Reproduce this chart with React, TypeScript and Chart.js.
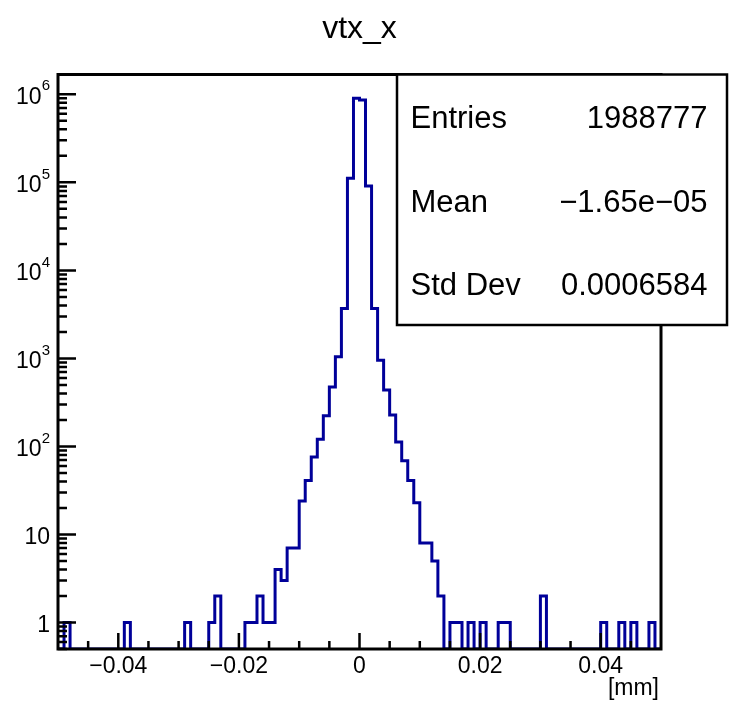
import React, { useEffect, useRef } from "react";
import { Chart, registerables } from "chart.js";

Chart.register(...registerables);

// ---- data ----
const X_MIN = -0.05;
const X_MAX = 0.05;
const Y_MIN = 0.5;
const Y_MAX = 1.68e6;

// 100 bins of width 0.001 from -0.05 to 0.05
const binCounts = [
  0, 1, 0, 0, 0, 0, 0, 0, 0, 0,
  0, 1, 0, 0, 0, 0, 0, 0, 0, 0,
  0, 1, 0, 0, 0, 1, 2, 0, 0, 0,
  0, 1, 1, 2, 1, 1, 4, 3, 7, 7,
  24, 41, 76, 121, 223, 475, 1043, 3700, 111000, 900000,
  865000, 91000, 3700, 956, 437, 227, 112, 69, 41, 23,
  8, 8, 5, 2, 0, 1, 1, 0, 1, 0,
  1, 0, 0, 1, 1, 0, 0, 0, 0, 0,
  2, 0, 0, 0, 0, 0, 0, 0, 0, 0,
  1, 0, 0, 1, 0, 1, 0, 0, 1, 0,
];

const xMajorTicks = [-0.04, -0.02, 0, 0.02, 0.04];
const xMajorLabels = ["\u22120.04", "\u22120.02", "0", "0.02", "0.04"];
const xMinorTicks = [
  -0.045, -0.035, -0.03, -0.025, -0.015, -0.01, -0.005,
  0.005, 0.01, 0.015, 0.025, 0.03, 0.035, 0.045,
];
const yMajorTicks = [1, 10, 100, 1000, 10000, 100000, 1000000];
const yBaseLabels = ["1", "10", "10", "10", "10", "10", "10"];
const yExpLabels = ["", "", "2", "3", "4", "5", "6"];
const yMinorDecades = [0.1, 1, 10, 100, 1000, 10000, 100000, 1000000];
const yMinorMultipliers = [2, 3, 4, 5, 6, 7, 8, 9];

const titleText = "vtx_x";
const xAxisTitle = "[mm]";
const statNames = ["Entries", "Mean", "Std Dev"];
const statValues = ["1988777", "\u22121.65e\u221205", "0.0006584"];

const FONT = "'Liberation Sans', Arial, Helvetica, sans-serif";
const HIST_COLOR = "#000099";

const rootDecor = {
  id: "rootDecor",
  afterDatasetsDraw(chart: any) {
    const ctx = chart.ctx as CanvasRenderingContext2D;
    const { left, right, top, bottom } = chart.chartArea;
    const xs = chart.scales.x;
    const ys = chart.scales.y;
    ctx.save();

    // frame
    ctx.strokeStyle = "#000";
    ctx.lineWidth = 3;
    ctx.strokeRect(left, top, right - left, bottom - top);

    // x ticks
    ctx.lineWidth = 2.5;
    ctx.beginPath();
    xMajorTicks.forEach((v) => {
      const px = xs.getPixelForValue(v);
      ctx.moveTo(px, bottom);
      ctx.lineTo(px, bottom - 16);
    });
    xMinorTicks.forEach((v) => {
      const px = xs.getPixelForValue(v);
      ctx.moveTo(px, bottom);
      ctx.lineTo(px, bottom - 8);
    });
    // y ticks
    yMajorTicks.forEach((v) => {
      const py = ys.getPixelForValue(v);
      ctx.moveTo(left, py);
      ctx.lineTo(left + 18, py);
    });
    yMinorDecades.forEach((d) => {
      yMinorMultipliers.forEach((m) => {
        const v = d * m;
        if (v < Y_MIN || v > Y_MAX) return;
        const py = ys.getPixelForValue(v);
        ctx.moveTo(left, py);
        ctx.lineTo(left + 9, py);
      });
    });
    ctx.stroke();

    // y labels with superscript exponents
    ctx.fillStyle = "#000";
    ctx.textBaseline = "middle";
    yMajorTicks.forEach((v, i) => {
      const py = ys.getPixelForValue(v);
      const base = yBaseLabels[i];
      const exp = yExpLabels[i];
      ctx.font = `23px ${FONT}`;
      const wb = ctx.measureText(base).width;
      ctx.font = `15px ${FONT}`;
      const we = exp ? ctx.measureText(exp).width : 0;
      const rightX = 50;
      ctx.textAlign = "left";
      ctx.font = `23px ${FONT}`;
      ctx.fillText(base, rightX - we - wb, py + 3);
      if (exp) {
        ctx.font = `15px ${FONT}`;
        ctx.fillText(exp, rightX - we, py - 8);
      }
    });

    // x axis title
    ctx.font = `23px ${FONT}`;
    ctx.textAlign = "right";
    ctx.fillText(xAxisTitle, 659, 689);

    // title
    ctx.font = `32px ${FONT}`;
    ctx.textAlign = "center";
    ctx.textBaseline = "alphabetic";
    ctx.fillText(titleText, (left + right) / 2, 38);

    // stats box
    const bx = 397, by = 74.5, bw = 330, bh = 250.5;
    ctx.fillStyle = "#fff";
    ctx.fillRect(bx, by, bw, bh);
    ctx.strokeStyle = "#000";
    ctx.lineWidth = 2.5;
    ctx.strokeRect(bx, by, bw, bh);
    ctx.fillStyle = "#000";
    ctx.font = `31px ${FONT}`;
    statNames.forEach((name, i) => {
      const yb = 128.3 + i * 83.3;
      ctx.textAlign = "left";
      ctx.fillText(name, 410.5, yb);
      ctx.textAlign = "right";
      ctx.fillText(statValues[i], 707.5, yb);
    });

    ctx.restore();
  },
};

export default function App() {
  const canvasRef = useRef<HTMLCanvasElement | null>(null);

  useEffect(() => {
    const canvas = canvasRef.current;
    if (!canvas) return;
    const binWidth = (X_MAX - X_MIN) / binCounts.length;
    const points = binCounts.map((c, i) => ({
      x: X_MIN + i * binWidth,
      y: c > 0 ? c : Y_MIN,
    }));
    points.push({ x: X_MAX, y: Y_MIN });

    const chart = new Chart(canvas, {
      type: "line",
      data: {
        datasets: [
          {
            data: points,
            stepped: "before",
            borderColor: HIST_COLOR,
            borderWidth: 3,
            pointRadius: 0,
            fill: false,
            tension: 0,
          } as any,
        ],
      },
      options: {
        animation: false,
        responsive: false,
        devicePixelRatio: 1,
        layout: { padding: { left: 0, right: 69, top: 74.5, bottom: 0 } },
        plugins: {
          legend: { display: false },
          title: { display: false },
          tooltip: { enabled: false },
        },
        scales: {
          x: {
            type: "linear",
            min: X_MIN,
            max: X_MAX,
            grid: { display: false, drawTicks: false },
            border: { display: false },
            afterBuildTicks: (scale: any) => {
              scale.ticks = xMajorTicks.map((v) => ({ value: v }));
            },
            afterFit: (scale: any) => {
              scale.height = 52;
            },
            ticks: {
              autoSkip: false,
              maxRotation: 0,
              padding: 4,
              color: "#000",
              font: { family: FONT, size: 23 },
              callback: (_v: any, idx: number) => xMajorLabels[idx],
            },
          },
          y: {
            type: "logarithmic",
            min: Y_MIN,
            max: Y_MAX,
            grid: { display: false, drawTicks: false },
            border: { display: false },
            ticks: { display: false },
            afterFit: (scale: any) => {
              scale.width = 58;
            },
          },
        },
      },
      plugins: [rootDecor],
    });
    return () => chart.destroy();
  }, []);

  return (
    <div style={{ position: "absolute", left: 0, top: 0, width: 730, height: 701, background: "#fff" }}>
      <canvas ref={canvasRef} width={730} height={701} style={{ display: "block" }} />
    </div>
  );
}
